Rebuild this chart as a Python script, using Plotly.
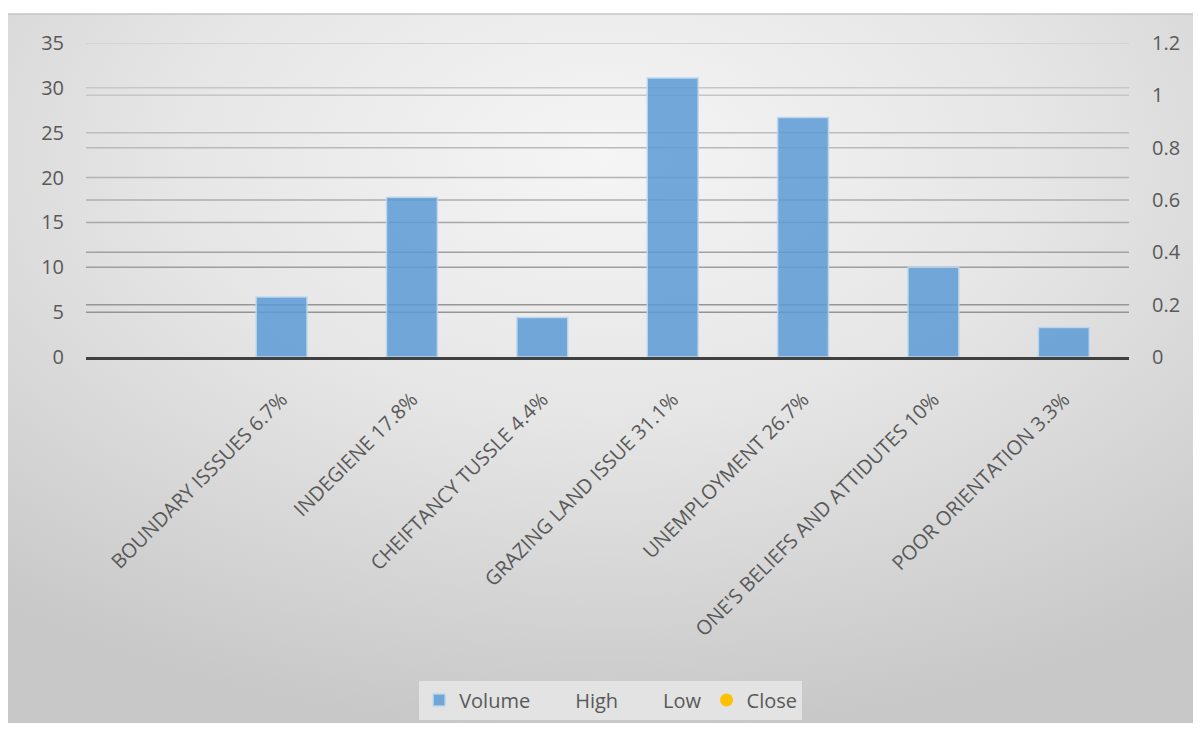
import plotly.graph_objects as go
import urllib.parse

categories = [" ", "BOUNDARY ISSSUES 6.7%", "INDEGIENE 17.8%", "CHEIFTANCY TUSSLE 4.4%",
              "GRAZING LAND ISSUE 31.1%", "UNEMPLOYMENT 26.7%",
              "ONE'S BELIEFS AND ATTIDUTES 10%", "POOR ORIENTATION 3.3%"]
volume = [None, 6.7, 17.8, 4.4, 31.1, 26.7, 10, 3.3]
high = [None] * len(categories)
low = [None] * len(categories)
close = [None] * len(categories)

left_ticks = [0, 5, 10, 15, 20, 25, 30, 35]
right_ticks = [0, 0.2, 0.4, 0.6, 0.8, 1, 1.2]

FONT = "Open Sans"
TXT = "#595959"

svg = ('<svg xmlns="http://www.w3.org/2000/svg" width="1192" height="717" viewBox="0 0 1192 717" preserveAspectRatio="none">'
       '<defs><radialGradient id="g" cx="50%" cy="20%" r="80%" fx="50%" fy="20%">'
       '<stop offset="0" stop-color="#f5f5f5"/><stop offset="0.45" stop-color="#e6e6e6"/>'
       '<stop offset="1" stop-color="#c8c8c8"/></radialGradient></defs>'
       '<rect x="0" y="0" width="1192" height="717" fill="url(#g)"/></svg>')
src = "data:image/svg+xml;charset=utf-8," + urllib.parse.quote(svg)

fig = go.Figure()
fig.add_trace(go.Bar(x=categories, y=volume, name="Volume",
                     marker=dict(color="rgba(91,155,213,0.85)",
                                 line=dict(color="rgba(189,215,238,0.9)", width=1.5)),
                     yaxis="y"))
fig.add_trace(go.Scatter(x=categories, y=high, name="High", mode="lines",
                         line=dict(color="rgba(0,0,0,0)", width=2), yaxis="y2"))
fig.add_trace(go.Scatter(x=categories, y=low, name="Low", mode="lines",
                         line=dict(color="rgba(0,0,0,0)", width=2), yaxis="y2"))
fig.add_trace(go.Scatter(x=categories, y=close, name="Close", mode="markers",
                         marker=dict(color="#FFC000", size=13), yaxis="y2"))

# page body has an 8px margin; figure coordinates below are relative to it
W, H = 1192, 715
L, R, T, B = 78, 1121, 35, 349
pw, ph = R - L, B - T
fx0, fy0, fx1, fy1 = 0, 6, 1192, 723


def grid_shapes(ticks, ref, top):
    out = []
    for v in ticks:
        if v == 0:
            continue
        lev = int(138 + 72 * v / top)
        out.append(dict(type="line", xref="paper", yref=ref, x0=0, x1=1, y0=v, y1=v,
                        line=dict(color=f"rgb({lev},{lev},{lev})", width=1.5),
                        layer="below"))
    return out


shapes = [dict(type="line", xref="paper", yref="paper",
               x0=(fx0 - L) / pw, x1=(fx1 - L) / pw,
               y0=1 + (T - fy0) / ph, y1=1 + (T - fy0) / ph,
               line=dict(color="#c4c4c4", width=1.5), layer="below")]
shapes += grid_shapes(left_ticks, "y", max(left_ticks))
shapes += grid_shapes(right_ticks, "y2", max(right_ticks))

fig.update_layout(
    width=W, height=H,
    margin=dict(l=L, r=W - R, t=T, b=H - B, pad=0, autoexpand=False),
    paper_bgcolor="white", plot_bgcolor="rgba(0,0,0,0)",
    font=dict(family=FONT, color=TXT, size=20),
    bargap=0.61,
    showlegend=True,
    legend=dict(orientation="h", x=0.503, xanchor="center",
                y=-(692 - B) / ph, yanchor="middle",
                bgcolor="#e3e3e3", font=dict(size=20, color=TXT),
                itemwidth=30, traceorder="normal"),
    xaxis=dict(type="category", categoryorder="array", categoryarray=categories,
               tickangle=-45, tickfont=dict(size=20, color=TXT, family=FONT),
               ticks="outside", ticklen=20, tickcolor="rgba(0,0,0,0)",
               showline=True, linecolor="#404040", linewidth=3,
               showgrid=False, zeroline=False, fixedrange=True, automargin=False),
    yaxis=dict(range=[0, 35], tickvals=left_ticks, showgrid=False,
               zeroline=False, showline=False, automargin=False,
               tickfont=dict(size=20, color=TXT), ticks="outside", ticklen=17,
               tickcolor="rgba(0,0,0,0)"),
    yaxis2=dict(range=[0, 1.2], tickvals=right_ticks, overlaying="y", side="right",
                showgrid=False, zeroline=False,
                showline=False, automargin=False, tickfont=dict(size=20, color=TXT),
                ticks="outside", ticklen=18, tickcolor="rgba(0,0,0,0)"),
    images=[dict(source=src, xref="paper", yref="paper",
                 x=(fx0 - L) / pw, y=1 + (T - fy0) / ph,
                 sizex=(fx1 - fx0) / pw, sizey=(fy1 - fy0) / ph,
                 sizing="stretch", xanchor="left", yanchor="top", layer="below")],
    shapes=shapes,
)

fig.write_html("out.html")
